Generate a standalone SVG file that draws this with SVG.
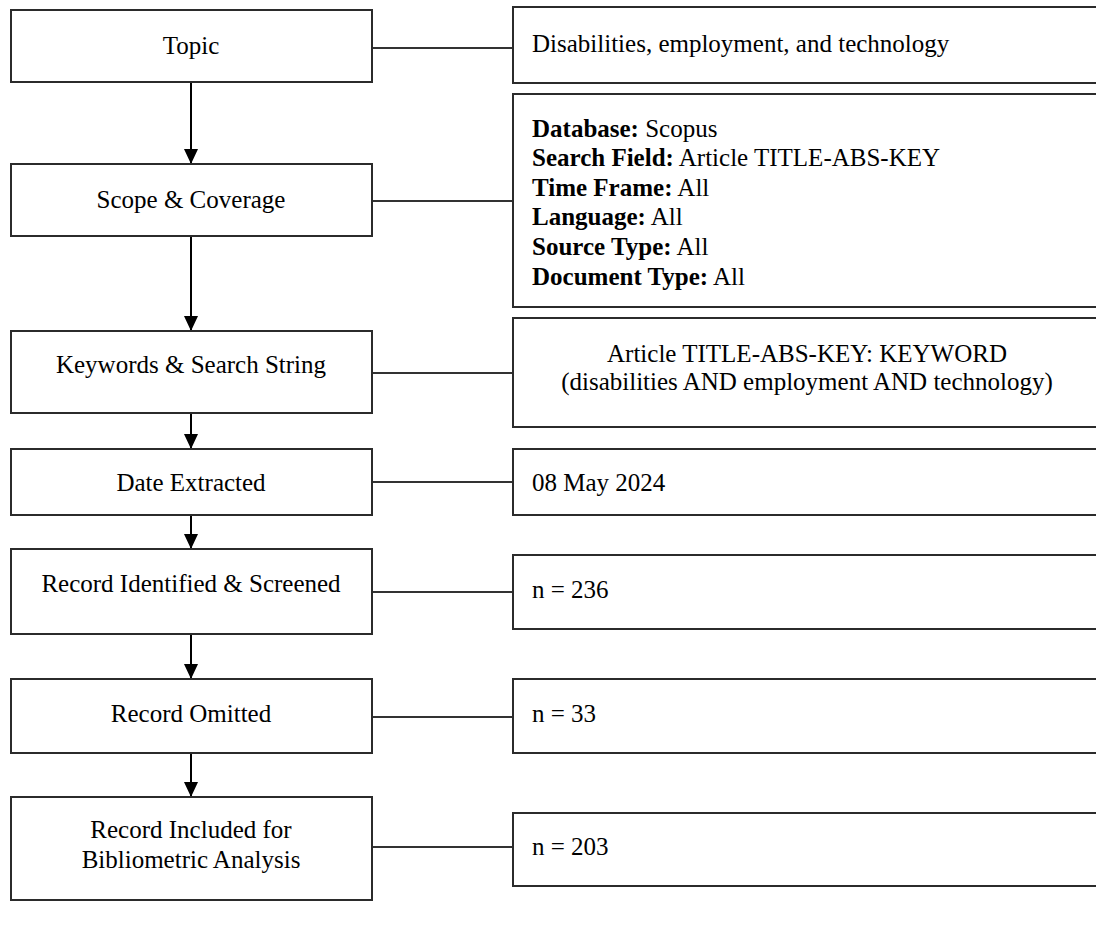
<svg xmlns="http://www.w3.org/2000/svg" width="1096" height="927" viewBox="0 0 1096 927">
<style>
  .box { fill: #ffffff; stroke: #2b2b2b; stroke-width: 2; }
  .conn { stroke: #333333; stroke-width: 2; fill: none; }
  .arrow { stroke: #000000; stroke-width: 2; fill: none; }
  .t { font-family: "Liberation Serif", "Times New Roman", serif; font-size: 25px; fill: #000000; }
  .c { text-anchor: middle; }
  .b { font-weight: bold; }
</style>
<defs>
  <marker id="ah" markerUnits="userSpaceOnUse" markerWidth="15" markerHeight="14" refX="15" refY="7" orient="auto">
    <path d="M0,0 L15,7 L0,14 z" fill="#000000"/>
  </marker>
</defs>
<rect x="0" y="0" width="1096" height="927" fill="#ffffff"/>

<g id="connectors">
  <line class="conn" x1="372" y1="48" x2="513" y2="48"/>
  <line class="conn" x1="372" y1="201" x2="513" y2="201"/>
  <line class="conn" x1="372" y1="373" x2="513" y2="373"/>
  <line class="conn" x1="372" y1="482" x2="513" y2="482"/>
  <line class="conn" x1="372" y1="592" x2="513" y2="592"/>
  <line class="conn" x1="372" y1="717" x2="513" y2="717"/>
  <line class="conn" x1="372" y1="847" x2="513" y2="847"/>
  <line class="arrow" x1="191" y1="82" x2="191" y2="164" marker-end="url(#ah)"/>
  <line class="arrow" x1="191" y1="236" x2="191" y2="331" marker-end="url(#ah)"/>
  <line class="arrow" x1="191" y1="413" x2="191" y2="449" marker-end="url(#ah)"/>
  <line class="arrow" x1="191" y1="515" x2="191" y2="549" marker-end="url(#ah)"/>
  <line class="arrow" x1="191" y1="634" x2="191" y2="679" marker-end="url(#ah)"/>
  <line class="arrow" x1="191" y1="753" x2="191" y2="797" marker-end="url(#ah)"/>
</g>

<g id="topic">
  <rect class="box" x="11" y="10" width="361" height="72"/>
  <text class="t c" x="191" y="54">Topic</text>
</g>
<g id="scope">
  <rect class="box" x="11" y="164" width="361" height="72"/>
  <text class="t c" x="191" y="208">Scope &amp; Coverage</text>
</g>
<g id="keywords">
  <rect class="box" x="11" y="331" width="361" height="82"/>
  <text class="t c" x="191" y="373">Keywords &amp; Search String</text>
</g>
<g id="date">
  <rect class="box" x="11" y="449" width="361" height="66"/>
  <text class="t c" x="191" y="491">Date Extracted</text>
</g>
<g id="identified">
  <rect class="box" x="11" y="549" width="361" height="85"/>
  <text class="t c" x="191" y="592">Record Identified &amp; Screened</text>
</g>
<g id="omitted">
  <rect class="box" x="11" y="679" width="361" height="74"/>
  <text class="t c" x="191" y="722">Record Omitted</text>
</g>
<g id="included">
  <rect class="box" x="11" y="797" width="361" height="103"/>
  <text class="t c" x="191" y="838">Record Included for</text>
  <text class="t c" x="191" y="868">Bibliometric Analysis</text>
</g>

<g id="topic-detail">
  <rect class="box" x="513" y="7" width="600" height="76"/>
  <text class="t" x="532" y="52">Disabilities, employment, and technology</text>
</g>
<g id="scope-detail">
  <rect class="box" x="513" y="94" width="600" height="213"/>
  <text class="t" x="532" y="137"><tspan class="b">Database:</tspan> Scopus</text>
  <text class="t" x="532" y="166"><tspan class="b">Search Field:</tspan> Article TITLE-ABS-KEY</text>
  <text class="t" x="532" y="196"><tspan class="b">Time Frame:</tspan> All</text>
  <text class="t" x="532" y="225"><tspan class="b">Language:</tspan> All</text>
  <text class="t" x="532" y="255"><tspan class="b">Source Type:</tspan> All</text>
  <text class="t" x="532" y="285"><tspan class="b">Document Type:</tspan> All</text>
</g>
<g id="keywords-detail">
  <rect class="box" x="513" y="318" width="600" height="109"/>
  <text class="t c" x="807" y="362">Article TITLE-ABS-KEY: KEYWORD</text>
  <text class="t c" x="807" y="390">(disabilities AND employment AND technology)</text>
</g>
<g id="date-detail">
  <rect class="box" x="513" y="449" width="600" height="66"/>
  <text class="t" x="532" y="491">08 May 2024</text>
</g>
<g id="identified-detail">
  <rect class="box" x="513" y="555" width="600" height="74"/>
  <text class="t" x="532" y="598">n = 236</text>
</g>
<g id="omitted-detail">
  <rect class="box" x="513" y="679" width="600" height="74"/>
  <text class="t" x="532" y="722">n = 33</text>
</g>
<g id="included-detail">
  <rect class="box" x="513" y="813" width="600" height="73"/>
  <text class="t" x="532" y="855">n = 203</text>
</g>
</svg>
